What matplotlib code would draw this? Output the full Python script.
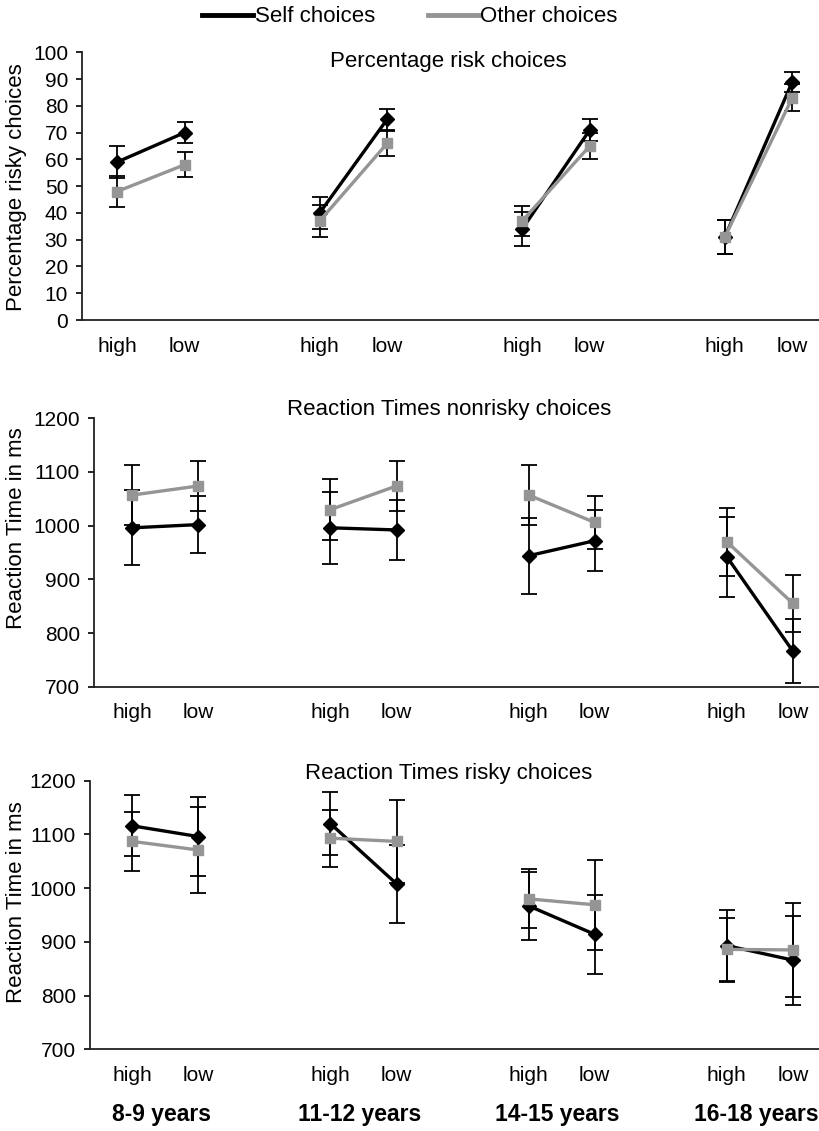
import matplotlib
matplotlib.use('Agg')
from matplotlib import pyplot as plt
from matplotlib.lines import Line2D
import numpy as np

plt.rcParams['font.family'] = ['Liberation Sans', 'DejaVu Sans']

# Data
groups = ['8-9 years', '11-12 years', '14-15 years', '16-18 years']
conditions = ['high', 'low']

# Percentage risky choices
self_pct = [59, 70, 40, 75, 34, 71, 31, 89]
self_pct_err = [6, 4, 6, 4, 6.5, 4, 6.4, 3.8]
other_pct = [48, 58, 37, 66, 37, 65, 31, 83]
other_pct_err = [5.8, 4.6, 6, 4.6, 5.6, 4.8, 6.2, 5]

# Reaction times nonrisky choices
self_rt_nr = [996, 1002, 996, 992, 944, 972, 942, 766]
self_rt_nr_err = [70, 53, 67, 56, 71, 57, 75, 60]
other_rt_nr = [1057, 1074, 1030, 1074, 1057, 1006, 970, 855]
other_rt_nr_err = [56, 46, 56, 46, 56, 50, 63, 53]

# Reaction times risky choices
self_rt_r = [1116, 1096, 1120, 1008, 967, 914, 893, 866]
self_rt_r_err = [57, 74, 59, 73, 63, 74, 67, 83]
other_rt_r = [1087, 1071, 1093, 1087, 980, 969, 886, 885]
other_rt_r_err = [55, 80, 53, 78, 55, 84, 58, 87]

self_color = 'black'
other_color = '#959595'
fs_tick = 15
fs_label = 16

W, H = 820, 1131
fig = plt.figure(figsize=(8.2, 11.31), dpi=100)


def px_axes(left, top, bottom, right=820):
    return fig.add_axes([left / W, 1 - bottom / H, (right - left) / W, (bottom - top) / H])


# x positions: two conditions per group, one empty slot between groups
xpos = np.array([3 * g + c for g in range(len(groups)) for c in range(len(conditions))])


def draw_panel(ax, self_v, self_e, other_v, other_e, ylim, yticks, xlim):
    for g in range(len(groups)):
        sl = slice(2 * g, 2 * g + 2)
        ax.errorbar(xpos[sl], self_v[sl], yerr=self_e[sl], fmt='none', ecolor='black',
                    elinewidth=1.3, capsize=5.5, capthick=1.3, zorder=2)
        ax.errorbar(xpos[sl], other_v[sl], yerr=other_e[sl], fmt='none', ecolor='black',
                    elinewidth=1.3, capsize=5.5, capthick=1.3, zorder=2)
        ax.plot(xpos[sl], self_v[sl], '-', color=self_color, lw=2.4, marker='D',
                markersize=7, zorder=3)
        ax.plot(xpos[sl], other_v[sl], '-', color=other_color, lw=2.4, marker='s',
                markersize=7, zorder=4)
    ax.set_ylim(*ylim)
    ax.set_yticks(yticks)
    ax.set_xlim(*xlim)
    ax.set_xticks(xpos)
    ax.set_xticklabels(conditions * len(groups))
    ax.tick_params(axis='x', length=0, pad=12, labelsize=fs_tick)
    ax.tick_params(axis='y', length=4, width=1.2, pad=6, labelsize=fs_tick, direction='out')
    for s in ['top', 'right']:
        ax.spines[s].set_visible(False)
    for s in ['left', 'bottom']:
        ax.spines[s].set_linewidth(1.3)
        ax.spines[s].set_color('#222222')
    ax.patch.set_visible(False)
    return ax


ax1 = px_axes(82, 52.3, 320)
draw_panel(ax1, self_pct, self_pct_err, other_pct, other_pct_err,
           (0, 100), range(0, 101, 10), (-0.52, 10.41))
ax2 = px_axes(94, 418.3, 686.7)
draw_panel(ax2, self_rt_nr, self_rt_nr_err, other_rt_nr, other_rt_nr_err,
           (700, 1200), range(700, 1201, 100), (-0.58, 10.41))
ax3 = px_axes(90, 780.7, 1049.3)
draw_panel(ax3, self_rt_r, self_rt_r_err, other_rt_r, other_rt_r_err,
           (700, 1200), range(700, 1201, 100), (-0.64, 10.41))

# Titles
fig.text(448 / W, 1 - 62 / H, 'Percentage risk choices', ha='center', va='center', fontsize=fs_label)
fig.text(449 / W, 1 - 410 / H, 'Reaction Times nonrisky choices', ha='center', va='center', fontsize=fs_label)
fig.text(449 / W, 1 - 773 / H, 'Reaction Times risky choices', ha='center', va='center', fontsize=fs_label)

# Y labels
fig.text(17 / W, 1 - 187 / H, 'Percentage risky choices', rotation=90, ha='center', va='center', fontsize=fs_label)
fig.text(17 / W, 1 - 528 / H, 'Reaction Time in ms', rotation=90, ha='center', va='center', fontsize=fs_label)
fig.text(17 / W, 1 - 902 / H, 'Reaction Time in ms', rotation=90, ha='center', va='center', fontsize=fs_label)

# Group labels under the bottom panel
for g, name in enumerate(groups):
    xc = 3 * g + 0.5
    xd = ax3.transData.transform((xc, 0))[0]
    xf = fig.transFigure.inverted().transform((xd, 0))[0]
    fig.text(xf - 4 / W, 1 - 1115 / H, name, ha='center', va='center', fontsize=16.5, fontweight='bold')

# Legend
handles = [Line2D([], [], color=self_color, lw=3.5), Line2D([], [], color=other_color, lw=3.5)]
fig.legend(handles, ['Self choices', 'Other choices'], loc='center', bbox_to_anchor=(0.5, 1 - 17 / H),
           ncol=2, frameon=False, fontsize=fs_label, handlelength=2.3, handletextpad=0.05,
           columnspacing=2.4)

fig.savefig('out.png', dpi=100)
